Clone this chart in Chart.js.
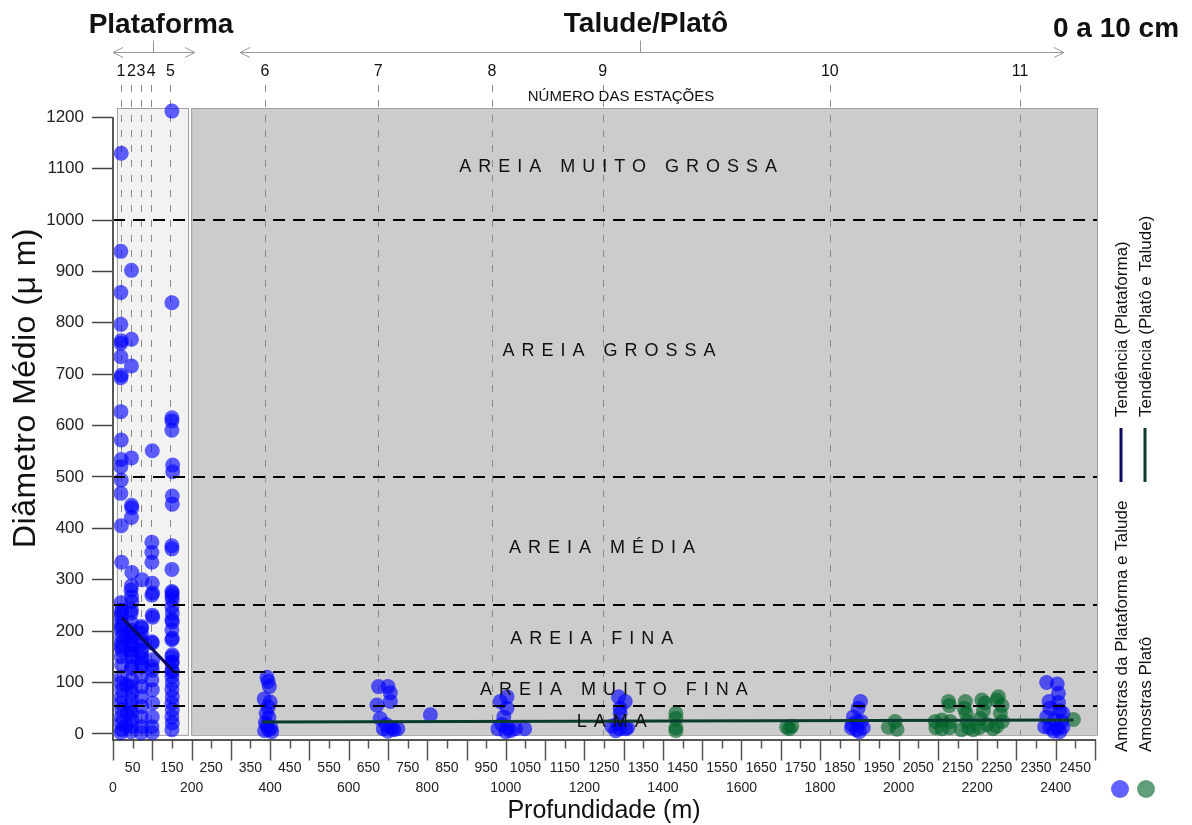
<!DOCTYPE html>
<html>
<head>
<meta charset="utf-8">
<script src="https://cdn.jsdelivr.net/npm/chart.js@4.4.0/dist/chart.umd.min.js"></script>
<style>
body { margin: 0; background: #fff; }
#wrap { width: 1192px; height: 825px; }
</style>
</head>
<body>
<div id="wrap"><canvas id="grafico" width="1192" height="825"></canvas></div>
<script>
// amostras da plataforma e talude: profundidade (m) / diametro medio (um)
var profPlataforma = [
  21,20,20,20,21,20,20,21,20,20,21,21,20,21,20,21,22,
  20,22,21,20,22,21,20,22,21,20,22,21,22,21,20,22,21,20,22,21,20,22,20,
  34,35,36,33,
  47,47,47,47,47,48,47,48,47,46,47,48,47,46,47,48,47,46,47,48,47,46,47,48,47,47,46,48,47,46,47,48,47,46,
  74,72,73,72,73,72,73,72,73,72,73,72,73,72,73,72,73,72,
  100,99,99,99,100,101,99,100,101,99,100,101,99,100,99,100,101,100,99,100,
  150,150,150,150,150,152,152,151,151,150,150,150,150,151,150,151,150,151,150,151,150,151,150,151,150,151,150,150,151,150,151,150,151,150,151,150,151,150,
  392,395,398,385,400,395,390,397,388,392,402,396,386,404,
  676,700,706,706,672,680,695,710,725,688,700,715,
  808,
  1003,986,1003,995,990,1005,1025,1048,980,1000,1012,
  1287,1304,1291,1291,1285,1290,1305,1270,1310,1280,
  1903,1897,1885,1895,1905,1880,1893,1910,1882,1900,
  2377,2404,2407,2383,2407,2385,2410,2418,2377,2397,2415,2372,2385,2405,2418,2395,2410
];
var diamPlataforma = [
  1130,939,859,797,765,760,734,698,693,627,572,534,520,494,468,405,334,
  255,241,235,228,216,209,202,189,177,170,163,150,134,111,99,86,72,60,47,33,21,8,2,
  190,95,40,15,
  902,768,716,537,445,440,421,314,288,280,267,257,241,235,216,202,196,189,177,173,163,157,150,131,128,105,92,80,66,53,41,27,14,4,
  300,209,206,196,183,177,163,157,148,138,131,111,92,72,53,33,14,2,
  551,373,353,334,293,274,270,231,227,179,177,144,131,124,105,86,60,33,14,2,
  1212,839,615,609,591,523,510,463,447,366,360,320,277,274,268,261,247,235,222,218,202,186,183,154,150,140,138,124,121,111,99,86,72,60,47,33,21,8,
  110,102,92,68,62,52,40,32,22,16,12,8,6,4,
  92,92,80,63,56,30,18,12,10,10,5,8,
  37,
  72,63,50,33,18,12,10,10,10,4,6,
  72,63,50,40,20,10,10,15,12,6,
  63,50,33,24,24,12,8,12,18,4,
  100,97,79,63,61,50,45,40,33,27,24,14,12,12,13,5,4
];

// amostras do plato
var profPlato = [
  1433,1433,1433,1433,
  1715,1728,1722,
  1974,1991,1996,
  2093,2095,2110,2127,2129,2131,2129,2170,2167,2172,2175,2178,2212,2220,2216,2208,2225,2205,
  2254,2250,2263,2259,2264,2250,2240,2190,2160,2110,
  2445
];
var diamPlato = [
  40,30,12,6,
  13,15,10,
  13,24,9,
  24,12,27,63,55,24,12,63,50,40,24,12,66,60,45,30,18,12,
  72,66,55,40,24,15,10,8,8,10,
  28
];

// linhas de tendencia
var tendPlataformaX = [23, 154];
var tendPlataformaY = [226, 122];
var tendTaludeX = [380, 2445];
var tendTaludeY = [23, 27];

// estacoes e classes granulometricas
var estacoes = ['1', '2', '3', '4', '5', '6', '7', '8', '9', '10', '11'];
var profEstacoes = [20, 47, 71, 97, 146, 387, 675, 965, 1247, 1825, 2309];
var limitesClasses = [1000, 500, 250, 120, 55];
var classes = ['AREIA MUITO GROSSA', 'AREIA GROSSA', 'AREIA MÉDIA', 'AREIA FINA', 'AREIA MUITO FINA', 'LAMA'];

var yTicks = [0, 100, 200, 300, 400, 500, 600, 700, 800, 900, 1000, 1100, 1200];
var xTicks = [];
for (var t = 0; t <= 2500; t += 50) xTicks.push(t);

function pontos(xs, ys) {
  return xs.map(function (x, i) { return { x: x, y: ys[i] }; });
}

var FONTE = '"Liberation Sans", Arial, sans-serif';
var AZUL = 'rgba(0,0,255,0.62)';
var VERDE = 'rgba(0,100,40,0.62)';

// onde ficam os nomes das classes (em unidades do grafico)
var posClasses = [[1286, 1103], [1263, 745], [1245, 362], [1219, 185], [1275, 85], [1270, 23]];

function seta(ctx, x1, x2, y, xm) {
  ctx.beginPath();
  ctx.moveTo(x1, y); ctx.lineTo(x2, y);
  ctx.moveTo(x1 + 10, y - 5); ctx.lineTo(x1, y); ctx.lineTo(x1 + 10, y + 5);
  ctx.moveTo(x2 - 10, y - 5); ctx.lineTo(x2, y); ctx.lineTo(x2 - 10, y + 5);
  ctx.moveTo(xm, y); ctx.lineTo(xm, y - 12);
  ctx.stroke();
}

var decor = {
  id: 'decor',
  beforeDatasetsDraw: function (chart) {
    var ctx = chart.ctx, sx = chart.scales.x, sy = chart.scales.y, a = chart.chartArea;
    var yb = sy.getPixelForValue(-2);
    ctx.save();
    ctx.lineWidth = 1;
    ctx.strokeStyle = '#a0a0a0';
    // plataforma
    var p1 = sx.getPixelForValue(10), p2 = sx.getPixelForValue(191);
    ctx.fillStyle = '#f2f2f2';
    ctx.fillRect(p1, a.top, p2 - p1, yb - a.top);
    ctx.strokeRect(p1 + 0.5, a.top + 0.5, p2 - p1, yb - a.top);
    // talude / plato
    var g1 = sx.getPixelForValue(199), g2 = a.right + 2;
    ctx.fillStyle = '#cccccc';
    ctx.fillRect(g1, a.top, g2 - g1, yb - a.top);
    ctx.strokeRect(g1 + 0.5, a.top + 0.5, g2 - g1, yb - a.top);
    // estacoes
    ctx.setLineDash([7, 8]);
    ctx.strokeStyle = '#8a8a8a';
    profEstacoes.forEach(function (p) {
      var px = Math.round(sx.getPixelForValue(p)) + 0.5;
      ctx.beginPath();
      ctx.moveTo(px, 85);
      ctx.lineTo(px, yb);
      ctx.stroke();
    });
    ctx.restore();
  },
  afterDatasetsDraw: function (chart) {
    var ctx = chart.ctx, sx = chart.scales.x, sy = chart.scales.y, a = chart.chartArea;
    ctx.save();
    // limites das classes
    ctx.setLineDash([12, 8]);
    ctx.strokeStyle = '#000';
    ctx.lineWidth = 2;
    limitesClasses.forEach(function (v) {
      var py = Math.round(sy.getPixelForValue(v));
      ctx.beginPath();
      ctx.moveTo(a.left, py);
      ctx.lineTo(a.right + 2, py);
      ctx.stroke();
    });
    ctx.setLineDash([]);

    // nomes das classes
    ctx.fillStyle = '#111';
    ctx.font = '18px ' + FONTE;
    ctx.letterSpacing = '7px';
    ctx.textAlign = 'center';
    ctx.textBaseline = 'middle';
    classes.forEach(function (c, i) {
      ctx.fillText(c, sx.getPixelForValue(posClasses[i][0]) + 3.5, sy.getPixelForValue(posClasses[i][1]));
    });
    ctx.letterSpacing = '0px';

    // eixo y (so ate 1200)
    ctx.strokeStyle = '#555';
    ctx.lineWidth = 2;
    ctx.beginPath();
    ctx.moveTo(a.left, sy.getPixelForValue(1200));
    ctx.lineTo(a.left, a.bottom);
    ctx.stroke();

    // marcas do eixo x a cada 50 m
    ctx.lineWidth = 1.5;
    xTicks.forEach(function (v) {
      var px = Math.round(sx.getPixelForValue(v)) + 0.5;
      ctx.beginPath();
      ctx.moveTo(px, a.bottom);
      ctx.lineTo(px, a.bottom + (v % 100 === 0 ? 21 : 9));
      ctx.stroke();
    });

    // titulos dos eixos
    ctx.fillStyle = '#111';
    ctx.textAlign = 'center';
    ctx.textBaseline = 'middle';
    ctx.font = '25px ' + FONTE;
    ctx.fillText('Profundidade (m)', (a.left + a.right) / 2, 811);
    ctx.save();
    ctx.translate(26, 388);
    ctx.rotate(-Math.PI / 2);
    ctx.font = '32px ' + FONTE;
    ctx.letterSpacing = '0.5px';
    ctx.fillText('Diâmetro Médio (μ m)', 0, 0);
    ctx.restore();

    // cabecalho
    ctx.font = 'bold 28px ' + FONTE;
    ctx.textBaseline = 'alphabetic';
    ctx.fillText('Plataforma', 161, 33);
    ctx.fillText('Talude/Platô', 646, 32);
    ctx.fillText('0 a 10 cm', 1116, 37);

    ctx.strokeStyle = '#999';
    ctx.lineWidth = 1;
    seta(ctx, 113, 195, 52.5, 153.5);
    seta(ctx, 240, 1064, 52.5, 640.5);

    // numeros das estacoes
    ctx.font = '16px ' + FONTE;
    ctx.textBaseline = 'middle';
    estacoes.forEach(function (e, i) {
      ctx.fillText(e, sx.getPixelForValue(profEstacoes[i]), 72);
    });
    ctx.font = '15px ' + FONTE;
    ctx.fillText('NÚMERO DAS ESTAÇÕES', 621, 97);

    // legenda
    ctx.fillStyle = AZUL;
    ctx.beginPath(); ctx.arc(1120, 789, 9, 0, Math.PI * 2); ctx.fill();
    ctx.fillStyle = VERDE;
    ctx.beginPath(); ctx.arc(1146, 789, 9, 0, Math.PI * 2); ctx.fill();

    ctx.lineWidth = 3;
    ctx.strokeStyle = '#0a0a60';
    ctx.beginPath(); ctx.moveTo(1121, 428); ctx.lineTo(1121, 482); ctx.stroke();
    ctx.strokeStyle = '#0b3b2e';
    ctx.beginPath(); ctx.moveTo(1145, 428); ctx.lineTo(1145, 482); ctx.stroke();

    ctx.fillStyle = '#111';
    ctx.font = '17px ' + FONTE;
    ctx.textAlign = 'left';
    var textos = [
      ['Amostras da Plataforma e Talude', 1122, 752],
      ['Amostras Platô', 1146, 752],
      ['Tendência (Plataforma)', 1122, 417],
      ['Tendência (Platô e Talude)', 1146, 417]
    ];
    textos.forEach(function (t) {
      ctx.save();
      ctx.translate(t[1], t[2]);
      ctx.rotate(-Math.PI / 2);
      ctx.fillText(t[0], 0, 0);
      ctx.restore();
    });
    ctx.restore();
  }
};

Chart.defaults.font.family = FONTE;

var ctx = document.getElementById('grafico').getContext('2d');
var chart = new Chart(ctx, {
  type: 'scatter',
  data: {
    datasets: [
      {
        label: 'Tendência (Plataforma)',
        data: pontos(tendPlataformaX, tendPlataformaY),
        showLine: true,
        borderColor: '#0a0a60',
        borderWidth: 3,
        pointRadius: 0
      },
      {
        label: 'Tendência (Platô e Talude)',
        data: pontos(tendTaludeX, tendTaludeY),
        showLine: true,
        borderColor: '#0b3b2e',
        borderWidth: 3,
        pointRadius: 0
      },
      {
        label: 'Amostras da Plataforma e Talude',
        data: pontos(profPlataforma, diamPlataforma),
        backgroundColor: AZUL,
        borderWidth: 0,
        pointRadius: 7.5,
        pointHoverRadius: 7.5
      },
      {
        label: 'Amostras Platô',
        data: pontos(profPlato, diamPlato),
        backgroundColor: VERDE,
        borderWidth: 0,
        pointRadius: 7.5,
        pointHoverRadius: 7.5
      }
    ]
  },
  options: {
    responsive: false,
    animation: false,
    clip: 12,
    layout: { padding: { left: 0, top: 108, right: 97, bottom: 0 } },
    plugins: {
      legend: { display: false },
      tooltip: { enabled: false }
    },
    scales: {
      x: {
        type: 'linear',
        min: 0,
        max: 2500,
        afterBuildTicks: function (s) { s.ticks = xTicks.map(function (v) { return { value: v }; }); },
        afterFit: function (s) { s.height = 85.5; },
        grid: { drawOnChartArea: false, drawTicks: false },
        border: { display: true, color: '#555', width: 2 },
        ticks: {
          autoSkip: false,
          maxRotation: 0,
          padding: 19,
          color: '#222',
          font: { size: 14, lineHeight: 1.43 },
          callback: function (v) {
            if (v % 100 === 50) return [String(v), ''];
            if (v % 200 === 0) return ['', String(v)];
            return '';
          }
        }
      },
      y: {
        type: 'linear',
        min: -11,
        max: 1218,
        afterBuildTicks: function (s) { s.ticks = yTicks.map(function (v) { return { value: v }; }); },
        afterFit: function (s) { s.width = 113; },
        grid: { drawOnChartArea: false, drawTicks: true, tickLength: 21, tickColor: '#444', tickWidth: 1.5 },
        border: { display: false },
        ticks: {
          padding: 8,
          color: '#222',
          font: { size: 17 },
          callback: function (v) { return String(v); }
        }
      }
    }
  },
  plugins: [decor]
});
</script>
</body>
</html>
